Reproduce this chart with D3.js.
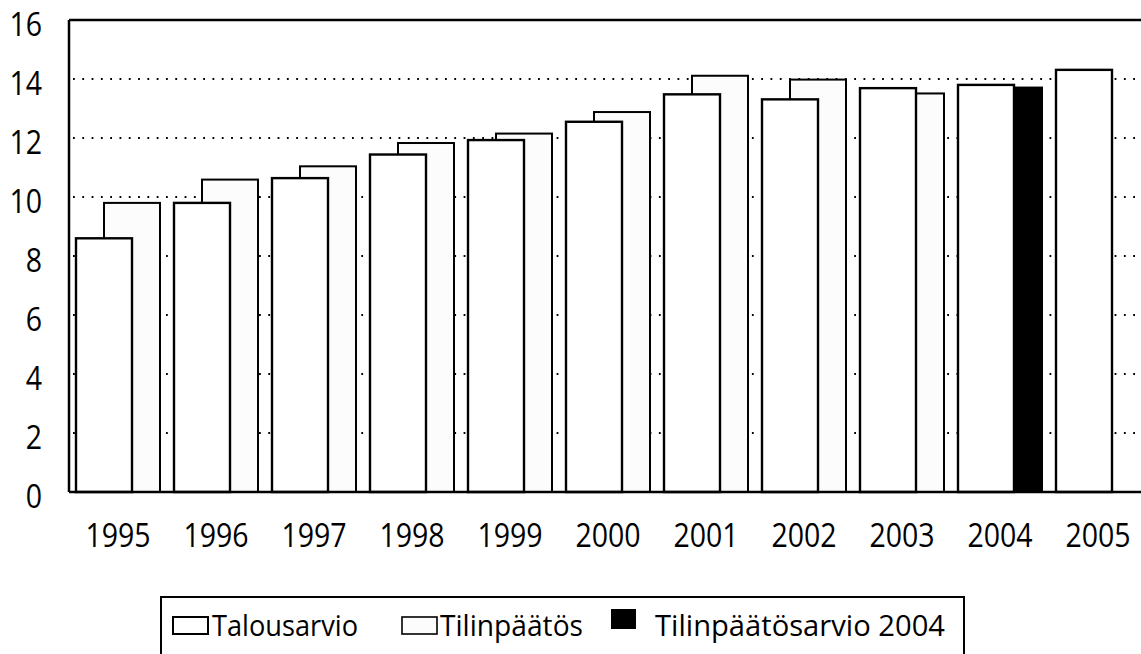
<!DOCTYPE html>
<html>
<head>
<meta charset="utf-8">
<script src="https://cdn.jsdelivr.net/npm/d3@7"></script>
<style>
  html, body { margin: 0; padding: 0; background: #fff; }
  svg { display: block; }
  text { font-family: "Open Sans", "Noto Sans", sans-serif; fill: #000; }
</style>
</head>
<body>
<svg id="chart" width="1141" height="654"></svg>
<script>
const years = ["1995","1996","1997","1998","1999","2000","2001","2002","2003","2004","2005"];
const talousarvio = [8.6, 9.8, 10.64, 11.44, 11.93, 12.55, 13.48, 13.31, 13.69, 13.8, 14.31];
const tilinpaatos = [9.8, 10.59, 11.04, 11.83, 12.15, 12.88, 14.11, 13.98, 13.51, null, null];
const tilinpaatosarvio2004 = [null, null, null, null, null, null, null, null, null, 13.71, null];
const yTicks = [0, 2, 4, 6, 8, 10, 12, 14, 16];
const legendLabels = ["Talousarvio", "Tilinpäätös", "Tilinpäätösarvio 2004"];

const svg = d3.select("#chart");
const plotLeft = 69, plotRight = 1147, plotTop = 20, plotBottom = 492;
const FS = 32;            // label font size
const DIGIT_W = 16.3;     // rendered digit advance (condensed like the original face)

const x = d3.scaleBand().domain(years).range([plotLeft, plotRight])
  .paddingInner(14/98).paddingOuter(7/98);
const y = d3.scaleLinear().domain([0, 16]).range([plotBottom, plotTop]);
const bw = x.bandwidth() * 2 / 3;
const off = x.bandwidth() / 3;

// gridlines
svg.append("g").selectAll("line")
  .data(yTicks.filter(t => t > 0 && t < 16))
  .join("line")
  .attr("x1", plotLeft + 4).attr("x2", plotRight)
  .attr("y1", d => y(d)).attr("y2", d => y(d))
  .attr("stroke", "#000").attr("stroke-width", 2.2)
  .attr("stroke-dasharray", "1.8,7.5");

// Tilinpäätös bars (behind)
svg.append("g").selectAll("rect")
  .data(years.map((yr, i) => ({yr, v: tilinpaatos[i]})).filter(d => d.v != null))
  .join("rect")
  .attr("x", d => x(d.yr) + off).attr("width", bw)
  .attr("y", d => y(d.v)).attr("height", d => y(0) - y(d.v))
  .attr("fill", "#fcfcfc").attr("stroke", "#000").attr("stroke-width", 2);

// Tilinpäätösarvio 2004 bars
svg.append("g").selectAll("rect")
  .data(years.map((yr, i) => ({yr, v: tilinpaatosarvio2004[i]})).filter(d => d.v != null))
  .join("rect")
  .attr("x", d => x(d.yr) + off).attr("width", bw)
  .attr("y", d => y(d.v)).attr("height", d => y(0) - y(d.v))
  .attr("fill", "#000").attr("stroke", "#000").attr("stroke-width", 2);

// Talousarvio bars (front)
svg.append("g").selectAll("rect")
  .data(years.map((yr, i) => ({yr, v: talousarvio[i]})))
  .join("rect")
  .attr("x", d => x(d.yr)).attr("width", bw)
  .attr("y", d => y(d.v)).attr("height", d => y(0) - y(d.v))
  .attr("fill", "#fff").attr("stroke", "#000").attr("stroke-width", 2.4);

// frame
svg.append("line").attr("x1", plotLeft).attr("x2", plotLeft).attr("y1", plotTop).attr("y2", plotBottom)
  .attr("stroke", "#000").attr("stroke-width", 2.5);
svg.append("line").attr("x1", plotLeft).attr("x2", plotRight).attr("y1", plotTop).attr("y2", plotTop)
  .attr("stroke", "#000").attr("stroke-width", 2.5);
svg.append("line").attr("x1", plotLeft).attr("x2", plotRight).attr("y1", plotBottom).attr("y2", plotBottom)
  .attr("stroke", "#000").attr("stroke-width", 2.5);

function styleLabels(sel) {
  sel.attr("font-size", FS).attr("font-family", "'Open Sans', sans-serif").attr("fill", "#000")
    .attr("lengthAdjust", "spacingAndGlyphs")
    .attr("textLength", function() { return this.textContent.length * DIGIT_W; });
}

// y axis labels
const yAxis = d3.axisLeft(y).tickValues(yTicks).tickSize(0).tickPadding(0).tickFormat(d3.format("d"));
const gy = svg.append("g").attr("transform", `translate(42,5)`).call(yAxis);
gy.select(".domain").remove();
styleLabels(gy.selectAll("text"));

// x axis labels
const xAxis = d3.axisBottom(x).tickSize(0).tickPadding(0);
const gx = svg.append("g").attr("transform", `translate(0,${plotBottom + 32})`).call(xAxis);
gx.select(".domain").remove();
styleLabels(gx.selectAll("text"));

// legend
const LFS = 30;
const lg = svg.append("g");
lg.append("rect").attr("x", 161).attr("y", 597).attr("width", 803).attr("height", 90)
  .attr("fill", "none").attr("stroke", "#000").attr("stroke-width", 2);
lg.append("rect").attr("x", 173).attr("y", 617).attr("width", 35).attr("height", 17)
  .attr("fill", "#fff").attr("stroke", "#000").attr("stroke-width", 2);
lg.append("text").attr("x", 212).attr("y", 636).attr("font-size", LFS)
  .attr("textLength", 146).attr("lengthAdjust", "spacingAndGlyphs").text(legendLabels[0]);
lg.append("rect").attr("x", 402).attr("y", 617).attr("width", 35).attr("height", 17)
  .attr("fill", "#fcfcfc").attr("stroke", "#000").attr("stroke-width", 1.6);
lg.append("text").attr("x", 440).attr("y", 636).attr("font-size", LFS)
  .attr("textLength", 143).attr("lengthAdjust", "spacingAndGlyphs").text(legendLabels[1]);
lg.append("rect").attr("x", 611).attr("y", 609).attr("width", 25).attr("height", 20)
  .attr("fill", "#000");
lg.append("text").attr("x", 655).attr("y", 636).attr("font-size", LFS)
  .attr("textLength", 290).attr("lengthAdjust", "spacingAndGlyphs").text(legendLabels[2]);
</script>
</body>
</html>
